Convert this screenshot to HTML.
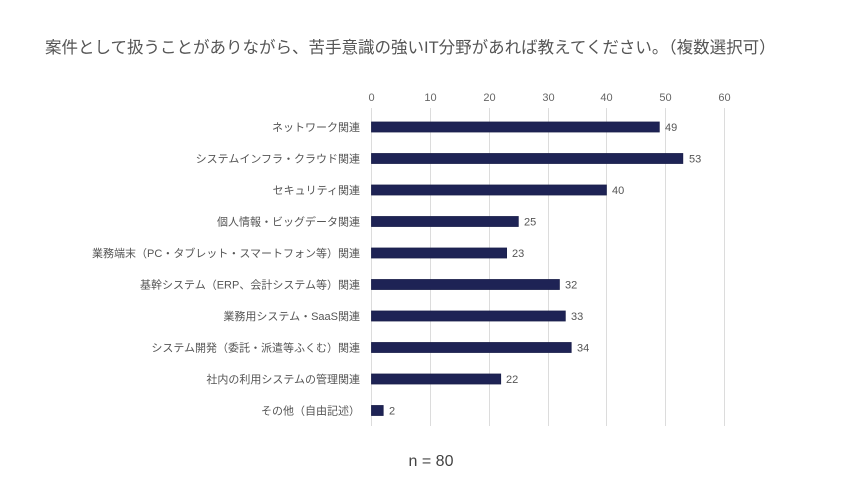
<!DOCTYPE html>
<html><head><meta charset="utf-8"><style>
body{margin:0;background:#fff;}
svg text{font-family:"Liberation Sans","Noto Sans CJK JP",sans-serif;}
</style></head><body>
<svg width="860" height="494" xmlns="http://www.w3.org/2000/svg">
<rect width="860" height="494" fill="#fff"/>
<text x="45" y="53" font-size="16.5" fill="#555">案件として扱うことがありながら、苦手意識の強いIT分野があれば教えてください。（複数選択可）</text>
<g stroke="#dcdcdc" stroke-width="1">
<line x1="371.5" y1="108" x2="371.5" y2="426"/>
<line x1="430.5" y1="108" x2="430.5" y2="426"/>
<line x1="489.5" y1="108" x2="489.5" y2="426"/>
<line x1="548.5" y1="108" x2="548.5" y2="426"/>
<line x1="606.5" y1="108" x2="606.5" y2="426"/>
<line x1="665.5" y1="108" x2="665.5" y2="426"/>
<line x1="724.5" y1="108" x2="724.5" y2="426"/>
</g>
<g font-size="11" fill="#666" text-anchor="middle">
<text x="371.5" y="101">0</text><text x="430.5" y="101">10</text><text x="489.5" y="101">20</text><text x="548.5" y="101">30</text><text x="606.5" y="101">40</text><text x="665.5" y="101">50</text><text x="724.5" y="101">60</text>
</g>
<g fill="#1e2355" stroke="#1a1f4a" stroke-width="0.8">
<rect x="371.5" y="122" width="287.8" height="10"/>
<rect x="371.5" y="153.5" width="311.3" height="10"/>
<rect x="371.5" y="185" width="234.9" height="10"/>
<rect x="371.5" y="216.5" width="146.8" height="10"/>
<rect x="371.5" y="248" width="135.1" height="10"/>
<rect x="371.5" y="279.5" width="187.9" height="10"/>
<rect x="371.5" y="311" width="193.8" height="10"/>
<rect x="371.5" y="342.5" width="199.7" height="10"/>
<rect x="371.5" y="374" width="129.2" height="10"/>
<rect x="371.5" y="405.5" width="11.7" height="10"/>
</g>
<g font-size="11" fill="#555">
<text x="665" y="131">49</text><text x="689" y="162.5">53</text><text x="612" y="194">40</text><text x="524" y="225.5">25</text><text x="512" y="257">23</text><text x="565" y="288.5">32</text><text x="571" y="320">33</text><text x="577" y="351.5">34</text><text x="506" y="383">22</text><text x="389" y="414.5">2</text>
</g>
<g font-size="11" fill="#555" text-anchor="end">
<text x="360" y="131">ネットワーク関連</text>
<text x="360" y="162.5">システムインフラ・クラウド関連</text>
<text x="360" y="194">セキュリティ関連</text>
<text x="360" y="225.5">個人情報・ビッグデータ関連</text>
<text x="360" y="257">業務端末（PC・タブレット・スマートフォン等）関連</text>
<text x="360" y="288.5">基幹システム（ERP、会計システム等）関連</text>
<text x="360" y="320">業務用システム・SaaS関連</text>
<text x="360" y="351.5">システム開発（委託・派遣等ふくむ）関連</text>
<text x="360" y="383">社内の利用システムの管理関連</text>
<text x="360" y="414.5">その他（自由記述）</text>
</g>
<text x="431" y="466" font-size="16" fill="#444" text-anchor="middle">n = 80</text>
</svg>
</body></html>
